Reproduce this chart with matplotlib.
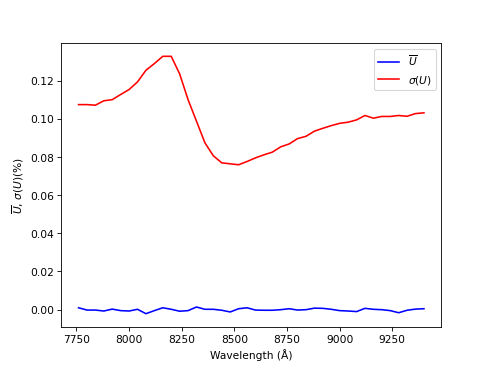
import numpy as np
import matplotlib
matplotlib.use("Agg")
import matplotlib.pyplot as plt

# Longueurs d'onde (Angstrom), pas de 40
wavelength = np.arange(7760, 9401, 40)

# Moyenne de U (%)
u_mean = [0.0010, -0.0002, -0.0002, -0.0007, 0.0003, -0.0005, -0.0007,
          0.0002, -0.0021, -0.0005, 0.0010, 0.0002, -0.0008, -0.0005,
          0.0014, 0.0002, 0.0002, -0.0003, -0.0012, 0.0005, 0.0010,
          -0.0002, -0.0003, -0.0003, 0.0000, 0.0005, -0.0002, 0.0000,
          0.0008, 0.0007, 0.0002, -0.0005, -0.0007, -0.0010, 0.0007,
          0.0002, 0.0000, -0.0005, -0.0016, -0.0003, 0.0003, 0.0005]

# Ecart-type de U (%)
u_sigma = [0.1074, 0.1074, 0.1071, 0.1094, 0.1100, 0.1127, 0.1153,
           0.1193, 0.1254, 0.1289, 0.1327, 0.1327, 0.1235, 0.1100,
           0.0987, 0.0874, 0.0806, 0.0769, 0.0764, 0.0759, 0.0776,
           0.0795, 0.0811, 0.0825, 0.0853, 0.0868, 0.0896, 0.0908,
           0.0935, 0.0950, 0.0964, 0.0976, 0.0982, 0.0994, 0.1017,
           0.1003, 0.1012, 0.1012, 0.1017, 0.1013, 0.1027, 0.1031]

fig, ax = plt.subplots(figsize=(6.4, 4.8), dpi=76.6)
ax.plot(wavelength, u_mean, color="b", label=r"$\overline{U}$")
ax.plot(wavelength, u_sigma, color="r", label=r"$\sigma(U)$")
ax.set_xticks([7750, 8000, 8250, 8500, 8750, 9000, 9250])
ax.set_xlabel("Wavelength (Å)")
ax.set_ylabel(r"$\overline{U}$, $\sigma(U)$(%)")
ax.legend(loc="upper right")

fig.savefig("out.png", dpi=76.6)
